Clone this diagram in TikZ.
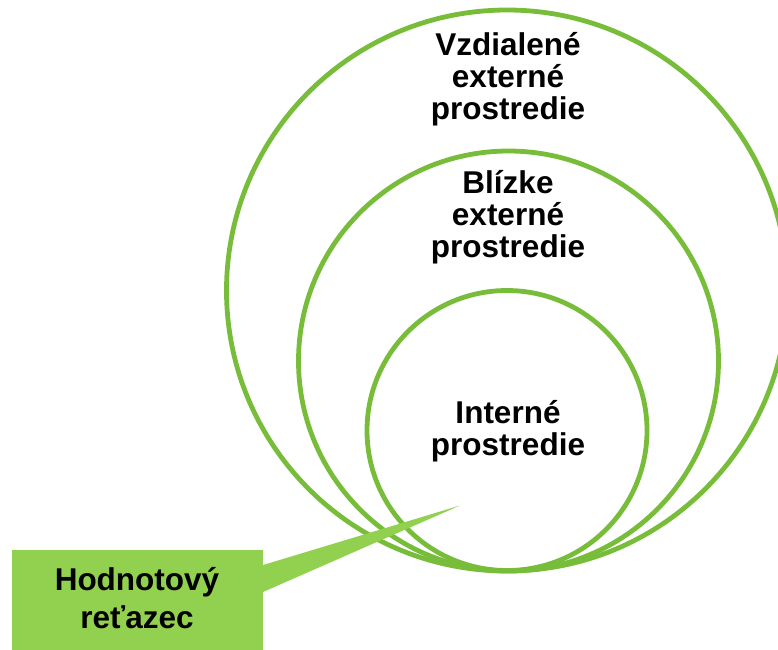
\documentclass[tikz,border=0pt]{standalone}
\usepackage{fontspec}
\setmainfont{Liberation Sans}
\definecolor{ringgreen}{HTML}{77BD3A}
\definecolor{boxgreen}{HTML}{92D050}
\begin{document}
\begin{tikzpicture}[x=1pt,y=-1pt,
  ring/.style={draw=ringgreen,line width=4.8pt},
  % base anchor of a multi-line label sits on its last line
  ringlabel/.style={align=center,anchor=base,inner sep=0pt,
    font=\fontsize{31.5}{32}\selectfont\bfseries},
  boxlabel/.style={align=center,anchor=base,inner sep=0pt,
    font=\fontsize{31.5}{38}\selectfont\bfseries}]
\useasboundingbox (0,0) rectangle (778,649);
\clip (0,0) rectangle (778,649);

% nested environment rings, all touching at the bottom
\draw[ring] (507,290.5) circle (280.5);
\draw[ring] (508.5,361) circle (210);
\draw[ring] (507,430.5) circle (140);

\node[ringlabel] (far)   at (508,119) {Vzdialené\\externé\\prostredie};
\node[ringlabel] (near)  at (508,257) {Blízke\\externé\\prostredie};
\node[ringlabel] (inner) at (508,455) {Interné\\prostredie};

% callout box with its pointer
\coordinate (tip) at (460,505.5);
\fill[boxgreen] (263,565) -- (tip) -- (263,592) -- cycle;
\node[fill=boxgreen,minimum width=251pt,minimum height=110pt,inner sep=0pt,
  anchor=north west] (chain) at (12,550) {};
\node[boxlabel] (chaintext) at (137,628) {Hodnotový\\reťazec};
\end{tikzpicture}
\end{document}
